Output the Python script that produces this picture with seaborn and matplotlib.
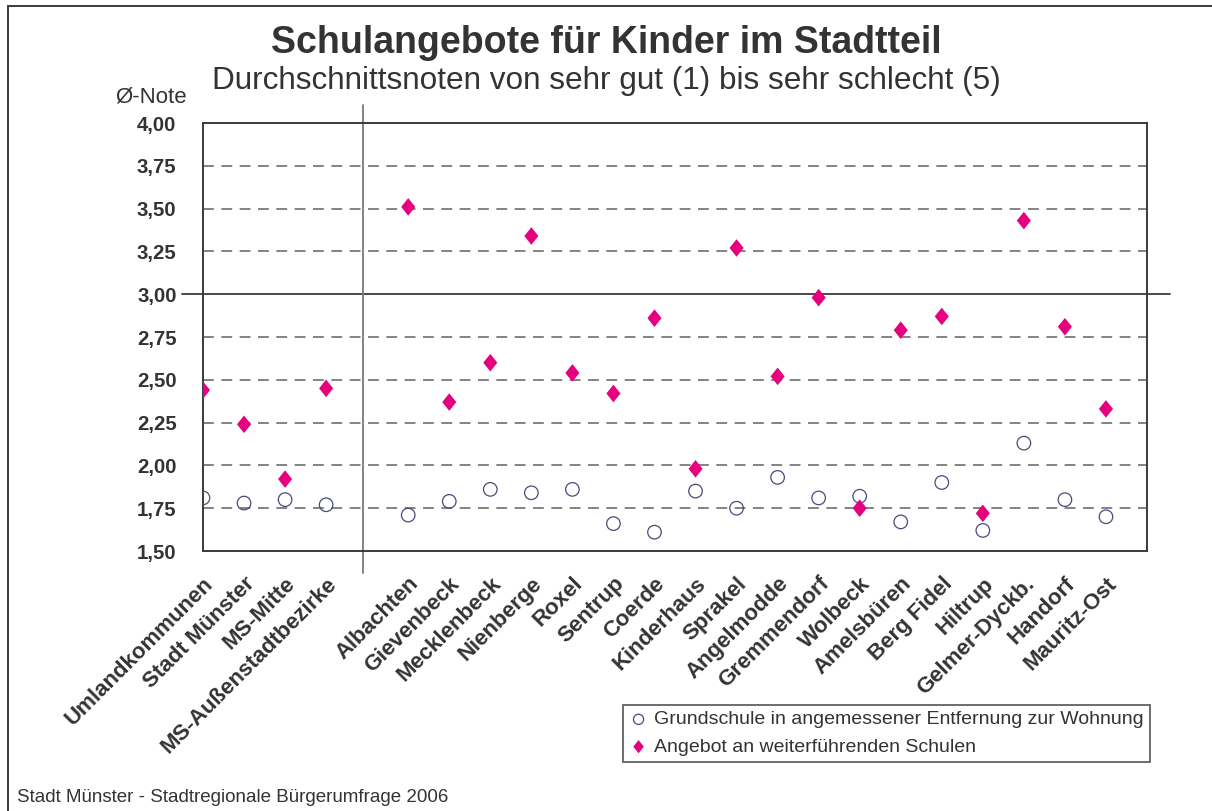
import pandas as pd
import matplotlib.pyplot as plt
from matplotlib.patches import Rectangle
import seaborn as sns

# categories ('' = empty slot between the city totals and the districts)
stadtteile = ['Umlandkommunen', 'Stadt Münster', 'MS-Mitte', 'MS-Außenstadtbezirke', '',
              'Albachten', 'Gievenbeck', 'Mecklenbeck', 'Nienberge', 'Roxel', 'Sentrup',
              'Coerde', 'Kinderhaus', 'Sprakel', 'Angelmodde', 'Gremmendorf', 'Wolbeck',
              'Amelsbüren', 'Berg Fidel', 'Hiltrup', 'Gelmer-Dyckb.', 'Handorf', 'Mauritz-Ost']

grundschule = [1.81, 1.78, 1.80, 1.77, None,
               1.71, 1.79, 1.86, 1.84, 1.86, 1.66,
               1.61, 1.85, 1.75, 1.93, 1.81, 1.82,
               1.67, 1.90, 1.62, 2.13, 1.80, 1.70]

weiterfuehrend = [2.44, 2.24, 1.92, 2.45, None,
                  3.51, 2.37, 2.60, 3.34, 2.54, 2.42,
                  2.86, 1.98, 3.27, 2.52, 2.98, 1.75,
                  2.79, 2.87, 1.72, 3.43, 2.81, 2.33]

y_ticks = [1.50, 1.75, 2.00, 2.25, 2.50, 2.75, 3.00, 3.25, 3.50, 3.75, 4.00]

serie_gs = 'Grundschule in angemessener Entfernung zur Wohnung'
serie_wf = 'Angebot an weiterführenden Schulen'

df = pd.DataFrame({'stadtteil': stadtteile,
                   'pos': range(len(stadtteile)),
                   serie_gs: grundschule,
                   serie_wf: weiterfuehrend})
long_df = df.melt(id_vars=['stadtteil', 'pos'], var_name='serie', value_name='note').dropna()

sns.set_style('white')
plt.rcParams['font.family'] = ['Liberation Sans', 'DejaVu Sans']
text_col = '#333333'

fig = plt.figure(figsize=(12.12, 8.11), dpi=100)
ax = fig.add_axes([203 / 1212, 1 - 551 / 811, 944 / 1212, 428 / 811])

raute = [(0, 1), (0.8, 0), (0, -1), (-0.8, 0)]

sns.scatterplot(data=long_df[long_df['serie'] == serie_gs], x='pos', y='note',
                marker='o', s=95, facecolors='none', edgecolor='#4a4a7c',
                linewidth=0.9, label=serie_gs, ax=ax, zorder=4)
sns.scatterplot(data=long_df[long_df['serie'] == serie_wf], x='pos', y='note',
                marker=raute, s=160, color='#e6007e', edgecolor='none',
                label=serie_wf, ax=ax, zorder=5)

ax.set_xlim(0, 23.0)
ax.set_ylim(1.5, 4.0)

# dashed helper lines, solid line at 3,00
for v in y_ticks[1:-1]:
    if v != 3.0:
        ax.axhline(v, color='#6e6e6e', lw=1.2, ls=(0, (6.5, 4.5)), zorder=1)
ax.axhline(3.0, xmin=-0.022, xmax=1.024, color='#3a3a3a', lw=1.3, clip_on=False, zorder=2)
ax.axvline(3.9, ymin=-0.051, ymax=1.042, color='#7a7a7a', lw=1.3, clip_on=False, zorder=2)

for sp in ax.spines.values():
    sp.set_color('#3a3a3a')
    sp.set_linewidth(1.4)

ax.set_yticks(y_ticks)
ax.set_yticklabels([f'{v:.2f}'.replace('.', ',') for v in y_ticks],
                   fontsize=14.7, fontweight='bold', color=text_col)
ax.tick_params(axis='y', length=0, pad=19)

ax.set_xticks(df['pos'])
ax.set_xticklabels(stadtteile, rotation=45, ha='right', va='top', rotation_mode='anchor',
                   fontsize=16, fontweight='bold', color=text_col)
ax.tick_params(axis='x', length=0, pad=16)

ax.set_xlabel('')
ax.set_ylabel('')

leg = ax.legend(loc='upper left', bbox_to_anchor=(623 / 1212, 1 - 705 / 811),
                bbox_transform=fig.transFigure, frameon=True, fancybox=False,
                fontsize=14, handletextpad=0.3, borderpad=0.3, labelspacing=0.5,
                handlelength=1.0, borderaxespad=0, markerscale=0.75)
leg.get_frame().set_edgecolor('#3a3a3a')
leg.get_frame().set_linewidth(1.3)
for t in leg.get_texts():
    t.set_color(text_col)

fig.text(0.5, 1 - 43 / 811, 'Schulangebote für Kinder im Stadtteil', ha='center', va='center',
         fontsize=27, fontweight='bold', color=text_col)
fig.text(0.5, 1 - 81 / 811, 'Durchschnittsnoten von sehr gut (1) bis sehr schlecht (5)',
         ha='center', va='center', fontsize=22.7, color=text_col)
fig.text(187 / 1212, 1 - 97 / 811, 'Ø-Note', ha='right', va='center', fontsize=16, color=text_col)
fig.text(17 / 1212, 1 - 797 / 811, 'Stadt Münster - Stadtregionale Bürgerumfrage 2006',
         ha='left', va='center', fontsize=13.5, color=text_col)

fig.patches.append(Rectangle((8 / 1212, -0.1), 1.2, 1.1 - 6 / 811, transform=fig.transFigure,
                             fill=False, edgecolor='#3a3a3a', lw=1.4))

fig.savefig('out.png', dpi=100)
